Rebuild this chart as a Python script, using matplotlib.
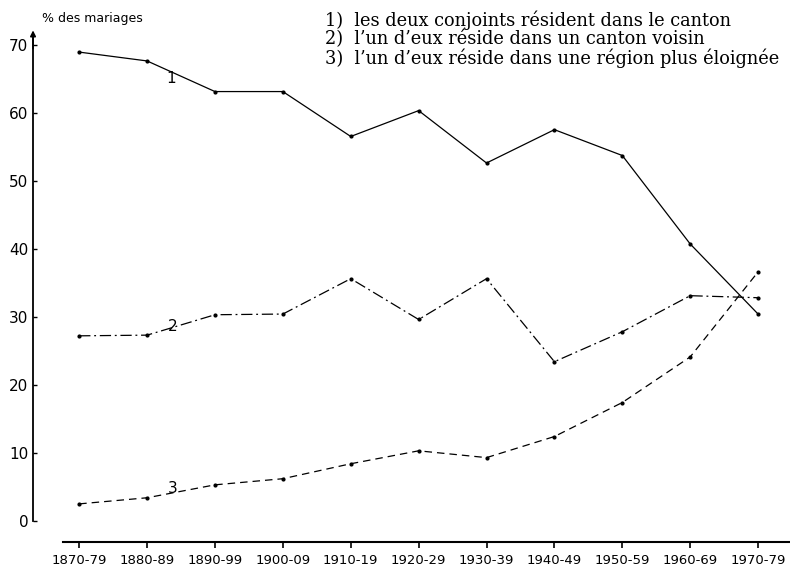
import numpy as np
import matplotlib.pyplot as plt

periodes = ['1870-79', '1880-89', '1890-99', '1900-09', '1910-19', '1920-29',
            '1930-39', '1940-49', '1950-59', '1960-69', '1970-79']
# % des mariages
meme_canton = [68.9, 67.6, 63.1, 63.1, 56.5, 60.3, 52.6, 57.5, 53.7, 40.7, 30.4]
canton_voisin = [27.2, 27.3, 30.3, 30.4, 35.6, 29.6, 35.6, 23.4, 27.8, 33.1, 32.8]
plus_eloigne = [2.5, 3.4, 5.3, 6.2, 8.4, 10.3, 9.3, 12.4, 17.4, 24.1, 36.6]
legende = ["1)  les deux conjoints résident dans le canton",
           "2)  l\u2019un d\u2019eux réside dans un canton voisin",
           "3)  l\u2019un d\u2019eux réside dans une région plus éloignée"]

x = np.arange(len(periodes))

fig = plt.figure(figsize=(7.9, 5.71), dpi=100)
ax = fig.add_axes([0.0418, 0.0508, 0.9582, 0.8949])

ax.plot(x, meme_canton, color='black', lw=0.9, ls='-', marker='o', ms=2)
ax.plot(x, canton_voisin, color='black', lw=0.9, ls=(0, (9, 3, 1.5, 3)), marker='o', ms=2)
ax.plot(x, plus_eloigne, color='black', lw=0.9, ls=(0, (6, 4)), marker='o', ms=2)

# numéros des courbes
ax.text(1.36, 65.0, '1', fontsize=11, ha='center', va='center')
ax.text(1.37, 28.6, '2', fontsize=11, ha='center', va='center')
ax.text(1.37, 4.7, '3', fontsize=11, ha='center', va='center')

ax.set_xlim(-0.68, 10.47)
ax.set_ylim(-3.1, 72)
ax.set_xticks(x)
ax.set_xticklabels(periodes, fontsize=9.5)
ax.set_yticks(np.arange(0, 71, 10))
ax.tick_params(axis='y', labelsize=11, length=3, direction='in', width=1)
ax.tick_params(axis='x', length=4, direction='out', width=1.2, pad=5)

for s in ['top', 'right']:
    ax.spines[s].set_visible(False)
ax.spines['left'].set_bounds(0, 71)
ax.spines['left'].set_linewidth(1.3)
ax.spines['bottom'].set_bounds(-0.24, 10.47)
ax.spines['bottom'].set_linewidth(1.5)

# flèche au bout de l'axe vertical
ax.annotate('', xy=(-0.68, 72.5), xytext=(-0.68, 69),
            arrowprops=dict(arrowstyle='-|>', color='black', lw=1.2, mutation_scale=8),
            annotation_clip=False)
fig.text(0.053, 0.968, '% des mariages', fontsize=9, va='center', ha='left')

fig.text(0.411, 0.981, '\n'.join(legende), fontsize=12.8, family='DejaVu Serif',
         va='top', ha='left', linespacing=0.98)

fig.savefig('out.png', dpi=100)
